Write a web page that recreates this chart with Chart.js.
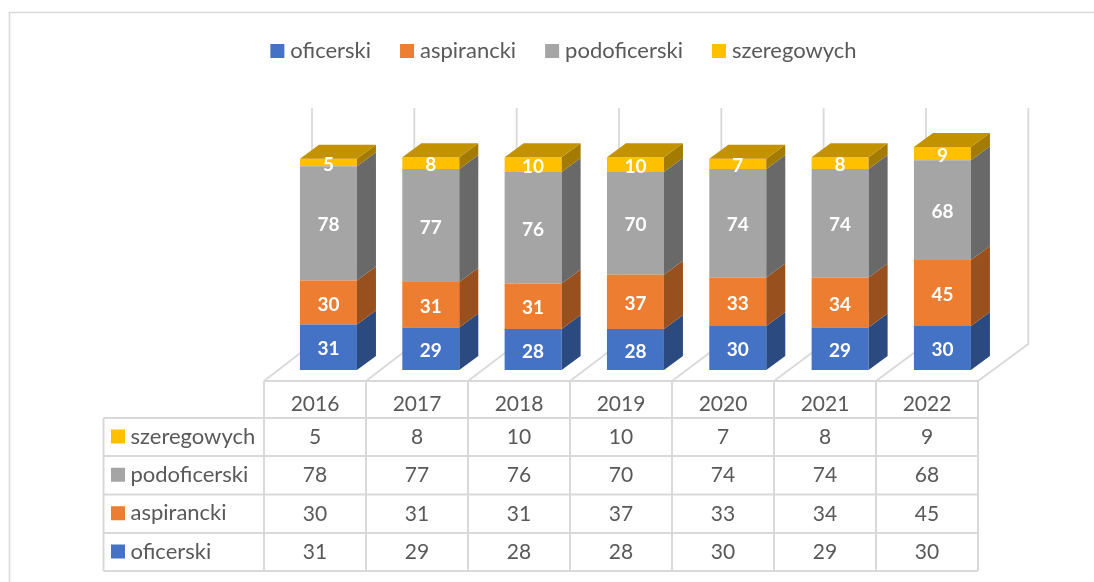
<!DOCTYPE html>
<html><head><meta charset="utf-8">
<style>html,body{margin:0;padding:0;background:#fff}canvas{display:block}</style>
<script src="https://cdn.jsdelivr.net/npm/chart.js@4"></script>
</head><body>
<div style="width:1094px;height:582px"><canvas id="c" width="1094" height="582"></canvas></div>
<script>
const years = ['2016','2017','2018','2019','2020','2021','2022'];
const oficerski = [31,29,28,28,30,29,30];
const aspirancki = [30,31,31,37,33,34,45];
const podoficerski = [78,77,76,70,74,74,68];
const szeregowych = [5,8,10,10,7,8,9];
const yMax = 180;

const FONT = 'Lato, "Open Sans", sans-serif';
const TEXT = '#595959', LINE = '#D9D9D9';
const DX = 19, DY = 14;            // depth of the bars
const palette = {
  oficerski:    {front:'#4472C4', side:'#2B4A80', top:'#335A9C'},
  aspirancki:   {front:'#ED7D31', side:'#98501E', top:'#B9601F'},
  podoficerski: {front:'#A5A5A5', side:'#696969', top:'#808080'},
  szeregowych:  {front:'#FFC000', side:'#A37B00', top:'#C29200'}
};
const table = {left:103.5, keyCol:264, colW:102, rows:[418,456,494.5,533,571], head:381};

function ds(label, data){
  return {label, data, backgroundColor:palette[label].front, borderWidth:0,
    barPercentage:57/102.33, categoryPercentage:1, stack:'s'};
}

const threeD = {
  id:'threeD',
  afterLayout(chart){
    // legend is centred on the whole figure, not on the plot
    const l = chart.legend;
    l.left = 38; l.right = 1094; l.top = 6;
  },
  beforeDatasetsDraw(chart){
    const {ctx, chartArea:a, scales:{x}} = chart;
    ctx.save();
    // figure frame
    ctx.strokeStyle = LINE; ctx.lineWidth = 1.6;
    ctx.beginPath(); ctx.moveTo(1094,12.5); ctx.lineTo(9.5,12.5); ctx.lineTo(9.5,582); ctx.stroke();
    // walls and floor
    ctx.lineWidth = 1.8;
    const step = x.getPixelForValue(1)-x.getPixelForValue(0);
    const first = x.getPixelForValue(0)-step/2;
    const backShift = 312 - first;
    for(let i=0;i<=years.length;i++){
      const bx = first + i*step + backShift;
      const fx = table.keyCol + i*table.colW;
      ctx.beginPath();
      ctx.moveTo(bx, a.top+2); ctx.lineTo(bx, table.head-37);
      ctx.lineTo(fx, table.head);
      ctx.stroke();
    }
    ctx.restore();
  },
  afterDatasetsDraw(chart){
    const {ctx} = chart;
    ctx.save();
    const n = chart.data.datasets.length;
    chart.data.datasets.forEach((d,di)=>{
      const c = palette[d.label];
      chart.getDatasetMeta(di).data.forEach(b=>{
        const r = b.x + b.width/2, l = b.x - b.width/2;
        ctx.fillStyle = c.side;
        ctx.beginPath();
        ctx.moveTo(r,b.base); ctx.lineTo(r+DX,b.base-DY); ctx.lineTo(r+DX,b.y-DY); ctx.lineTo(r,b.y);
        ctx.closePath(); ctx.fill();
        if(di===n-1){
          ctx.fillStyle = c.top;
          ctx.beginPath();
          ctx.moveTo(l,b.y); ctx.lineTo(l+DX,b.y-DY); ctx.lineTo(r+DX,b.y-DY); ctx.lineTo(r,b.y);
          ctx.closePath(); ctx.fill();
        }
      });
    });
    // value labels
    ctx.fillStyle = '#fff'; ctx.font = 'bold 19px '+FONT;
    ctx.textAlign = 'center'; ctx.textBaseline = 'middle';
    chart.data.datasets.forEach((d,di)=>{
      chart.getDatasetMeta(di).data.forEach((b,i)=>{
        ctx.fillText(String(d.data[i]), b.x, (b.y+b.base)/2+2);
      });
    });
    // data table
    const t = table, right = t.keyCol + years.length*t.colW;
    ctx.strokeStyle = LINE; ctx.lineWidth = 2;
    ctx.beginPath();
    ctx.moveTo(t.keyCol,t.head); ctx.lineTo(right,t.head);
    t.rows.forEach(y=>{ctx.moveTo(t.left,y); ctx.lineTo(right,y);});
    ctx.moveTo(t.left,t.rows[0]); ctx.lineTo(t.left,t.rows[t.rows.length-1]);
    for(let i=0;i<=years.length;i++){
      const vx = t.keyCol+i*t.colW;
      ctx.moveTo(vx,t.head); ctx.lineTo(vx,t.rows[t.rows.length-1]);
    }
    ctx.stroke();
    ctx.fillStyle = TEXT; ctx.font = '21px '+FONT;
    years.forEach((yr,i)=>ctx.fillText(yr, t.keyCol+(i+.5)*t.colW, (t.head+t.rows[0])/2+5));
    const ordered = chart.data.datasets.slice().reverse();
    ordered.forEach((d,r)=>{
      const cy = (t.rows[r]+t.rows[r+1])/2;
      ctx.fillStyle = palette[d.label].front;
      ctx.fillRect(111, cy-7.5, 14, 14);
      ctx.fillStyle = TEXT; ctx.textAlign='left';
      ctx.font = '22px '+FONT;
      ctx.fillText(d.label, 130.5, cy-.5);
      ctx.font = '21px '+FONT;
      ctx.textAlign='center';
      d.data.forEach((v,i)=>ctx.fillText(String(v), t.keyCol+(i+.5)*t.colW, cy));
    });
    ctx.restore();
  }
};

new Chart(document.getElementById('c'),{
  type:'bar',
  data:{labels:years, datasets:[ds('oficerski',oficerski),ds('aspirancki',aspirancki),ds('podoficerski',podoficerski),ds('szeregowych',szeregowych)]},
  plugins:[threeD],
  options:{
    responsive:false, animation:false, devicePixelRatio:1,
    layout:{padding:{left:277.3,right:100.4,top:40,bottom:212}},
    scales:{
      x:{display:false,stacked:true,offset:true},
      y:{display:false,stacked:true,min:0,max:yMax}
    },
    plugins:{
      tooltip:{enabled:false},
      legend:{
        position:'top',
        labels:{usePointStyle:true,pointStyle:'rect',boxWidth:4,boxHeight:14,padding:34,color:TEXT,
          font:{family:FONT,size:22}}
      }
    }
  }
});
</script>
</body></html>
